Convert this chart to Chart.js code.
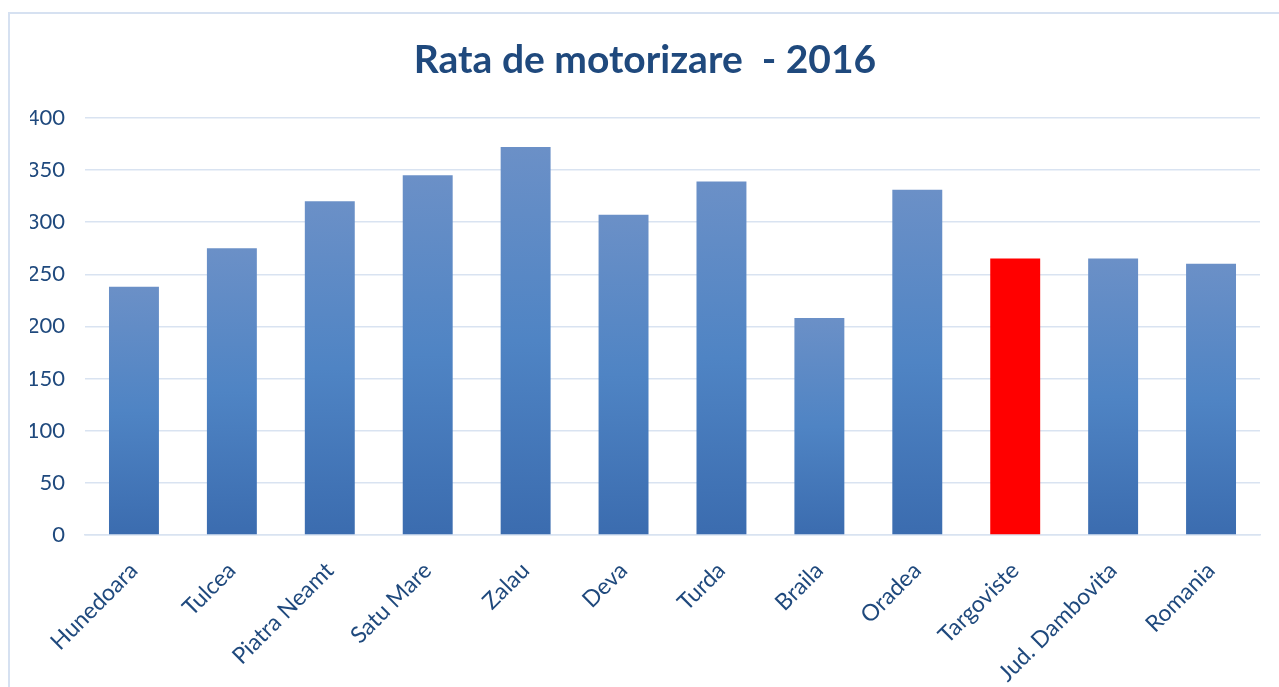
<!DOCTYPE html>
<html>
<head>
<meta charset="utf-8">
<title>Rata de motorizare - 2016</title>
<script src="https://cdn.jsdelivr.net/npm/chart.js@4/dist/chart.umd.min.js"></script>
<style>
    html, body { margin: 0; padding: 0; background: #fff; overflow: hidden; }
    .frame {
        position: absolute;
        left: 8px;
        top: 12px;
        width: 1269px;
        height: 673px;
        border-left: 2px solid #d6e1f1;
        border-top: 2px solid #d6e1f1;
    }
</style>
</head>
<body>
<div class="frame">
    <canvas id="motorChart" width="1269" height="673"></canvas>
</div>
<script>
// Date: autoturisme la 1000 locuitori
const categories = ['Hunedoara', 'Tulcea', 'Piatra Neamt', 'Satu Mare', 'Zalau', 'Deva',
    'Turda', 'Braila', 'Oradea', 'Targoviste', 'Jud. Dambovita', 'Romania'];
const values = [238, 275, 320, 345, 372, 307, 339, 208, 331, 265, 265, 260];
const highlighted = ['Targoviste'];
const yMax = 400;
const yStep = 50;

const textColor = '#1f497d';
const gridColor = '#d9e3f1';
const fontFamily = 'Lato, "Open Sans", sans-serif';

// Gradient pe fiecare bara, ca in Excel
function barColor(context) {
    const chart = context.chart;
    if (highlighted.includes(categories[context.dataIndex])) return '#ff0000';
    if (!chart.chartArea) return '#4f81bd';
    const y = chart.scales.y;
    const top = y.getPixelForValue(context.raw);
    const base = y.getPixelForValue(0);
    const g = chart.ctx.createLinearGradient(0, top, 0, base);
    g.addColorStop(0, '#6b90c7');
    g.addColorStop(0.5, '#4f84c4');
    g.addColorStop(1, '#3b6caf');
    return g;
}

new Chart(document.getElementById('motorChart'), {
    type: 'bar',
    data: {
        labels: categories,
        datasets: [{
            data: values,
            backgroundColor: barColor,
            borderWidth: 0,
            categoryPercentage: 1,
            barPercentage: 0.51
        }]
    },
    options: {
        responsive: false,
        animation: false,
        layout: { padding: { left: 20, right: 19, top: 0, bottom: 0 } },
        plugins: {
            legend: { display: false },
            tooltip: { enabled: false },
            title: {
                display: true,
                text: 'Rata de motorizare  - 2016',
                color: textColor,
                font: { family: fontFamily, size: 39, weight: 'bold' },
                padding: { top: 23, bottom: 34 }
            }
        },
        scales: {
            y: {
                min: 0,
                max: yMax,
                ticks: {
                    stepSize: yStep,
                    color: textColor,
                    padding: 20,
                    font: { family: fontFamily, size: 22 }
                },
                grid: { color: gridColor, lineWidth: 1.5, drawTicks: false },
                border: { display: false },
                afterFit: scale => { scale.width = 55; }
            },
            x: {
                ticks: {
                    color: textColor,
                    minRotation: 45,
                    maxRotation: 45,
                    padding: 22,
                    font: { family: fontFamily, size: 23 }
                },
                grid: { display: false, drawTicks: false },
                border: { display: true, color: gridColor, width: 1.5 },
                afterFit: scale => { scale.height = 152; }
            }
        }
    }
});
</script>
</body>
</html>
